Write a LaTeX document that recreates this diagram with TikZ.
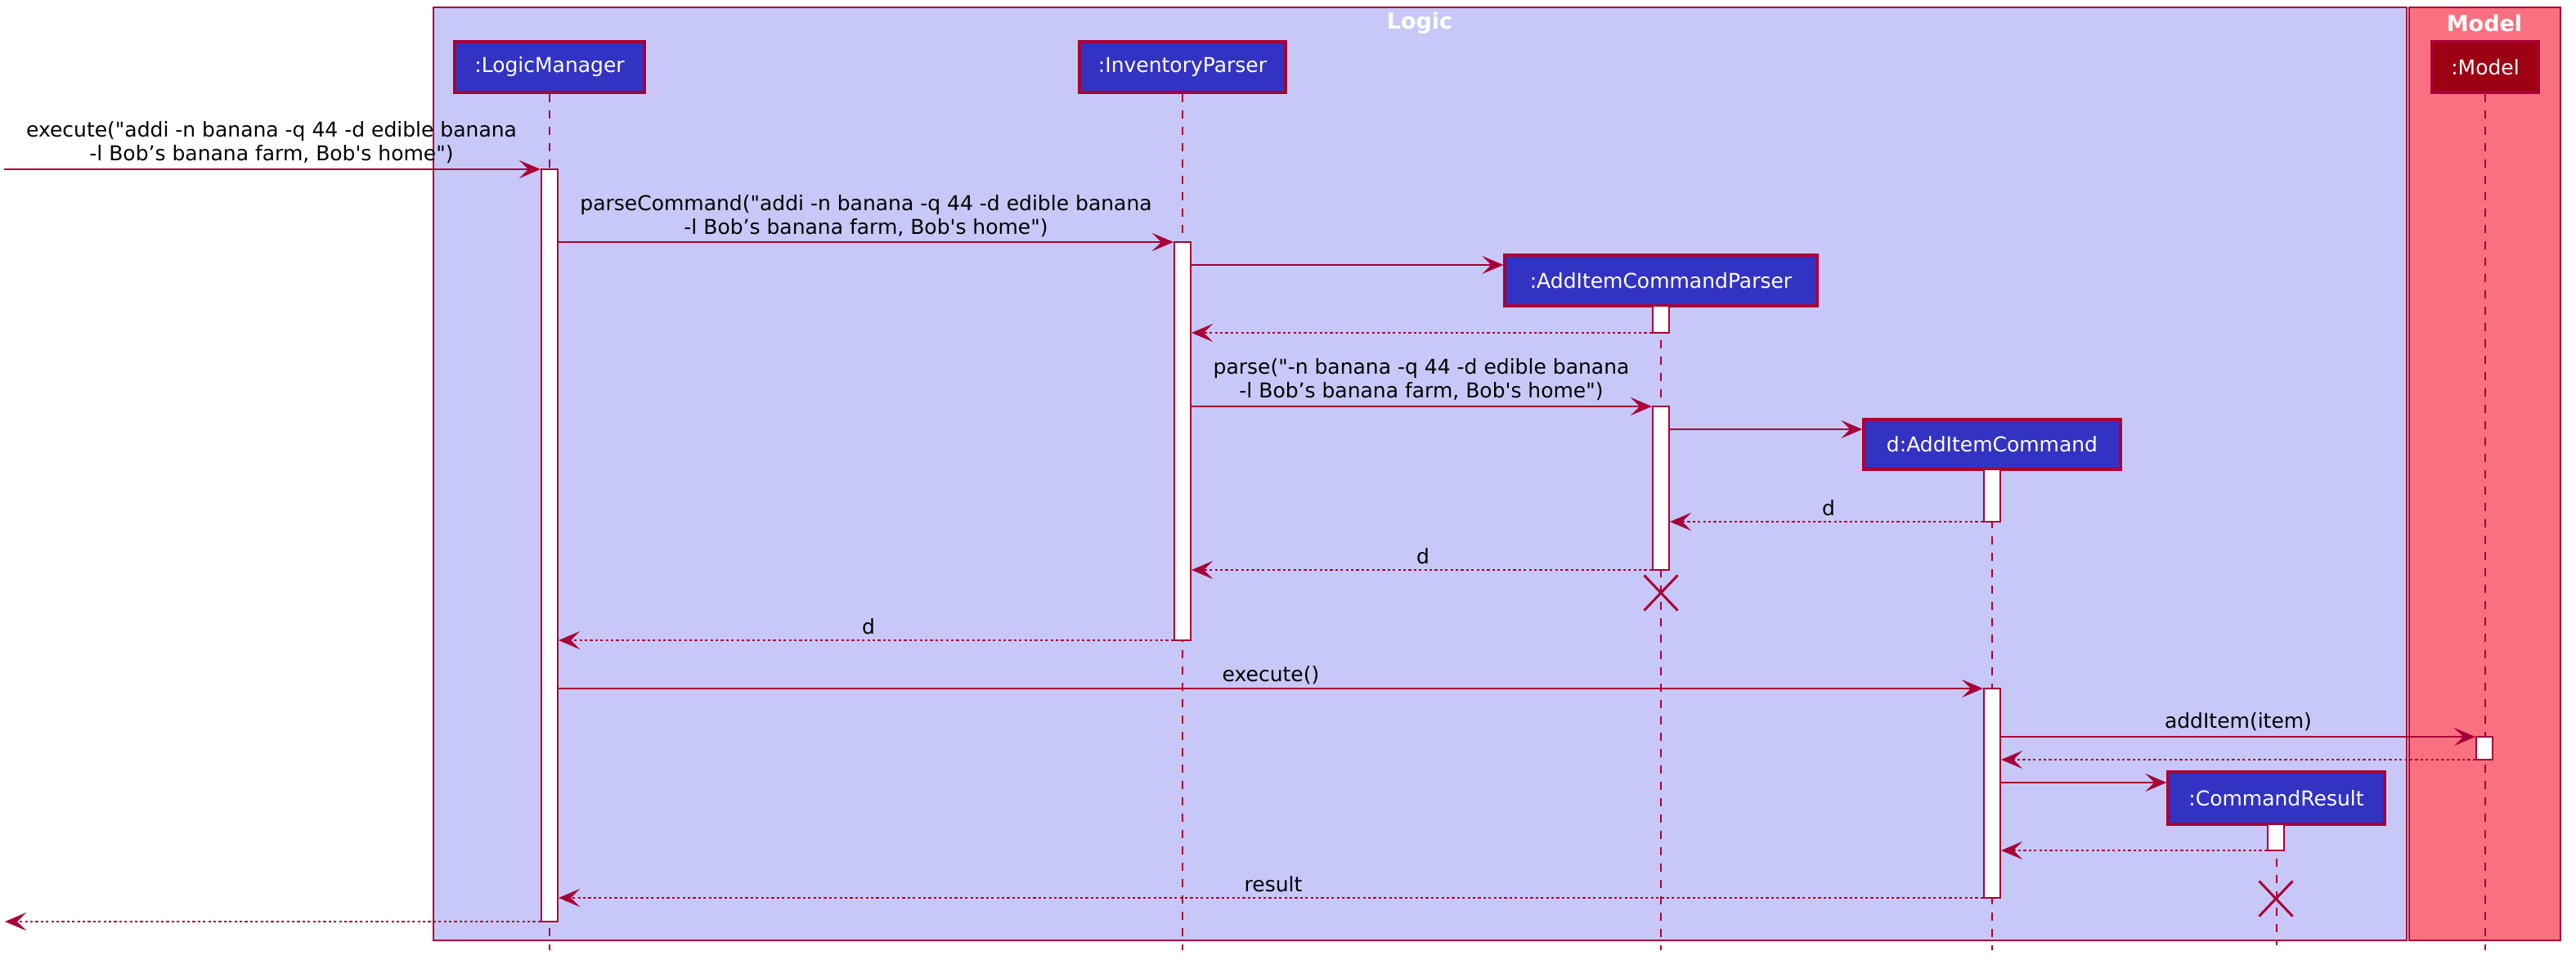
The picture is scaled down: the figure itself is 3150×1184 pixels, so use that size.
\documentclass[tikz,border=0pt]{standalone}
\usepackage{fontspec}
\setmainfont{DejaVu Sans}
\usetikzlibrary{arrows.meta,shapes.misc}
\definecolor{bord}{HTML}{A80036}
\definecolor{logicbg}{HTML}{C8C8F8}
\definecolor{modelbg}{HTML}{F97181}
\definecolor{partblue}{HTML}{3333C3}
\definecolor{partred}{HTML}{9D0012}
\newcommand{\qd}{\textquotedbl}
\newcommand{\qs}{\textquotesingle}
\begin{document}
\begin{tikzpicture}[x=0.5pt,y=-0.5pt,
  grp/.style={draw=bord, line width=1pt},
  grptitle/.style={text=white, font=\fontsize{13.5}{16}\selectfont\bfseries, inner sep=0pt},
  part/.style={draw=bord, line width=1.6pt, fill=partblue, text=white, inner sep=0pt,
    minimum height=31pt, font=\fontsize{12.5}{15}\selectfont},
  life/.style={draw=bord, line width=1pt, dash pattern=on 5pt off 5pt},
  actbar/.style={draw=bord, line width=1pt, fill=white, minimum width=10pt, inner sep=0pt},
  msg/.style={draw=bord, line width=1pt, -{Stealth[length=13pt,width=11pt,inset=5.5pt]}},
  ret/.style={msg, dash pattern=on 1.6pt off 1.6pt},
  lbl/.style={font=\fontsize{12.5}{14.5}\selectfont, align=center, inner sep=0pt, text=black},
  xmark/.style={cross out, draw=bord, line width=1.5pt, minimum width=19pt, minimum height=20pt, inner sep=0pt}
]
\useasboundingbox (0,0) rectangle (3150,1184);
\fill[white] (0,0) rectangle (3150,1184);

% group boxes
\draw[grp, fill=logicbg] (530,9) rectangle (2943,1150);
\draw[grp, fill=modelbg] (2946,9) rectangle (3131,1150);
\node[grptitle] (tlogic) at (1736,28) {Logic};
\node[grptitle] (tmodel) at (3038,28) {Model};

% participants
\node[part, minimum width=116pt] (lm) at (672,82) {:LogicManager};
\node[part, minimum width=126pt] (ip) at (1446,82) {:InventoryParser};
\node[part, minimum width=65pt, fill=partred] (model) at (3039,82) {:Model};
\node[part, minimum width=191pt] (acp) at (2031,343) {:AddItemCommandParser};
\node[part, minimum width=157pt, minimum height=30.5pt] (dac) at (2436,543.5) {d:AddItemCommand};
\node[part, minimum width=132.5pt, minimum height=32pt] (cr) at (2783.5,976) {:CommandResult};

\coordinate (bottom) at (0,1162);
\coordinate (bottomcr) at (0,1156);

% lifelines
\draw[life] (lm.south) -- (lm.south |- bottom);
\draw[life] (ip.south) -- (ip.south |- bottom);
\draw[life] (model.south) -- (model.south |- bottom);
\draw[life] (acp.south) -- (acp.south |- bottom);
\draw[life] (dac.south) -- (dac.south |- bottom);
\draw[life] (cr.south) -- (cr.south |- bottomcr);

% activation bars
\node[actbar, minimum height=460pt] (lmA) at (672,667) {};
\node[actbar, minimum height=243.5pt] (ipA) at (1446,539.5) {};
\node[actbar, minimum height=16.5pt] (apA1) at (2031,390.5) {};
\node[actbar, minimum height=100pt] (apA2) at (2031,597) {};
\node[actbar, minimum height=32pt] (dA1) at (2436,606) {};
\node[actbar, minimum height=128pt] (dA2) at (2436,970) {};
\node[actbar, minimum height=14pt] (mA) at (3038,915) {};
\node[actbar, minimum height=16pt] (crA) at (2783,1024) {};

% message levels
\coordinate (src) at (5,207);
\coordinate (y1) at (0,207);
\coordinate (y2) at (0,296);
\coordinate (y3) at (0,324);
\coordinate (y4) at (0,407);
\coordinate (y5) at (0,497);
\coordinate (y6) at (0,525);
\coordinate (y7) at (0,638);
\coordinate (y8) at (0,697);
\coordinate (y9) at (0,783);
\coordinate (y10) at (0,842);
\coordinate (y11) at (0,901);
\coordinate (y12) at (0,929);
\coordinate (y13) at (0,957);
\coordinate (y14) at (0,1040);
\coordinate (y15) at (0,1098);
\coordinate (y16) at (0,1127);
\coordinate (out) at (6,1127);

% messages
\draw[msg] (src) -- (lmA.west |- y1);
\draw[msg] (lmA.east |- y2) -- (ipA.west |- y2);
\draw[msg] (ipA.east |- y3) -- (acp.west |- y3);
\draw[ret] (apA1.west |- y4) -- (ipA.east |- y4);
\draw[msg] (ipA.east |- y5) -- (apA2.west |- y5);
\draw[msg] (apA2.east |- y6) -- (dac.west |- y6);
\draw[ret] (dA1.west |- y7) -- (apA2.east |- y7);
\draw[ret] (apA2.west |- y8) -- (ipA.east |- y8);
\draw[ret] (ipA.west |- y9) -- (lmA.east |- y9);
\draw[msg] (lmA.east |- y10) -- (dA2.west |- y10);
\draw[msg] (dA2.east |- y11) -- (mA.west |- y11);
\draw[ret] (mA.west |- y12) -- (dA2.east |- y12);
\draw[msg] (dA2.east |- y13) -- (cr.west |- y13);
\draw[ret] (crA.west |- y14) -- (dA2.east |- y14);
\draw[ret] (dA2.west |- y15) -- (lmA.east |- y15);
\draw[ret] (lmA.west |- y16) -- (out);

% labels
\node[lbl] (l1) at (332,174) {execute(\qd addi -n banana -q 44 -d edible banana\\-l Bob’s banana farm, Bob\qs s home\qd)};
\node[lbl] (l2) at (1059,264) {parseCommand(\qd addi -n banana -q 44 -d edible banana\\-l Bob’s banana farm, Bob\qs s home\qd)};
\node[lbl] (l4) at (1738,464) {parse(\qd -n banana -q 44 -d edible banana\\-l Bob’s banana farm, Bob\qs s home\qd)};
\node[lbl] (l7) at (2236,621) {d};
\node[lbl] (l8) at (1740,680) {d};
\node[lbl] (l9) at (1062,766) {d};
\node[lbl] (l10) at (1554,826) {execute()};
\node[lbl] (l11) at (2737,883) {addItem(item)};
\node[lbl] (l15) at (1557,1081) {result};

% destroy marks
\node[xmark] (x1) at (2031,725) {};
\node[xmark] (x2) at (2783,1099) {};
\end{tikzpicture}
\end{document}
